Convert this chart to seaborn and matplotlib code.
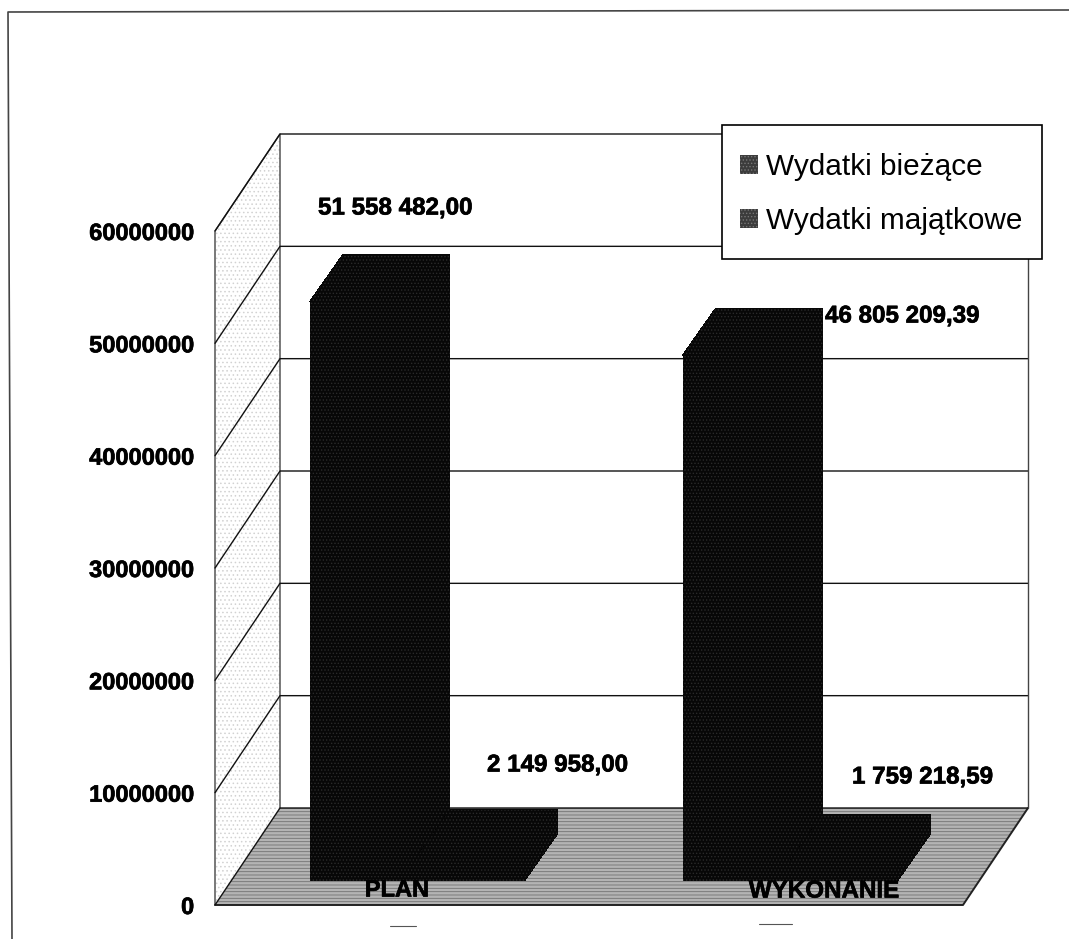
# plot.py - scanned "3D" bar chart, Wydatki plan / wykonanie

import pandas as pd
import matplotlib.pyplot as plt
import matplotlib.patheffects as pe
from matplotlib.patches import Polygon, Rectangle
from matplotlib.lines import Line2D
import seaborn as sns

# Data
categories = ['PLAN', 'WYKONANIE']
wydatki_biezace = [51558482.00, 46805209.39]
wydatki_majatkowe = [2149958.00, 1759218.59]
series_names = ['Wydatki bieżące', 'Wydatki majątkowe']
value_labels = ['51 558 482,00', '46 805 209,39', '2 149 958,00', '1 759 218,59']
y_ticks = [0, 10000000, 20000000, 30000000, 40000000, 50000000, 60000000]

df = pd.DataFrame({
    'kategoria': categories * 2,
    'seria': [series_names[0]] * 2 + [series_names[1]] * 2,
    'wartosc': wydatki_biezace + wydatki_majatkowe,
})

W, H = 1069, 939
sns.set_theme(style='white')
plt.rcParams['font.family'] = ['Liberation Sans', 'DejaVu Sans']
plt.rcParams['hatch.linewidth'] = 0.6

heavy = [pe.withStroke(linewidth=0.5, foreground='black')]

fig = plt.figure(figsize=(W / 100, H / 100), dpi=100)
fig.patch.set_facecolor('white')

# axes = front plane of the 3D box, in pixels of the picture
left, right, top, bottom = 215, 963, 231, 905
ax = fig.add_axes([left / W, 1 - bottom / H, (right - left) / W, (bottom - top) / H])
ax.patch.set_alpha(0)

sns.barplot(data=df, x='kategoria', y='wartosc', hue='seria', order=categories,
            hue_order=series_names, palette=['#070707', '#070707'],
            width=0.576, saturation=1, ax=ax, zorder=5)

px_x = 373.0                    # pixels per category
px_y = (bottom - top) / 60000000
ax.set_xlim((left - 417) / px_x, (right - 417) / px_x)
ax.set_ylim(0, 60000000)

# depth of the box and of the bars, in data units
wall_dx, wall_dy = 65 / px_x, 97 / px_y
bar_dx, bar_dy = 33 / px_x, 47 / px_y
lift = 24 / px_y
x0, x1 = ax.get_xlim()

# floor
ax.add_patch(Polygon([(x0, 0), (x1, 0), (x1 + wall_dx, wall_dy), (x0 + wall_dx, wall_dy)],
                     closed=True, facecolor='#b4b4b4', edgecolor='#727272', hatch='-----',
                     linewidth=0, clip_on=False, zorder=1))
ax.plot([x0, x1, x1 + wall_dx], [0, 0, wall_dy], color='#222222', lw=1.4, clip_on=False, zorder=1.5)

# left wall
ax.add_patch(Polygon([(x0, 0), (x0 + wall_dx, wall_dy), (x0 + wall_dx, 60000000 + wall_dy), (x0, 60000000)],
                     closed=True, facecolor='white', edgecolor='#d2d2d2', hatch='....',
                     linewidth=0, clip_on=False, zorder=1))
ax.plot([x0, x0, x0 + wall_dx, x0 + wall_dx], [0, 60000000, 60000000 + wall_dy, wall_dy],
        color='#444444', lw=1.0, clip_on=False, zorder=2)

# grid lines on the walls
for t in y_ticks:
    ax.plot([x0, x0 + wall_dx, x1 + wall_dx], [t, t + wall_dy, t + wall_dy],
            color='#111111', lw=1.0, clip_on=False, zorder=2)
ax.plot([x1 + wall_dx, x1 + wall_dx], [wall_dy, 60000000 + wall_dy],
        color='#444444', lw=1.0, clip_on=False, zorder=2)

# bars: move the seaborn bars back onto the floor and add side + top faces
bars = [p for c in ax.containers for p in c]
for p in bars:
    p.set_y(p.get_y() + lift)
    p.set_edgecolor('#2a2a2a')
    p.set_hatch('.....')
    p.set_linewidth(0)
    p.set_antialiased(False)
    bx, by, bw, bh = p.get_x(), p.get_y(), p.get_width(), p.get_height()
    ax.add_patch(Polygon([(bx, by + bh), (bx + bar_dx, by + bh + bar_dy),
                          (bx + bw + bar_dx, by + bh + bar_dy), (bx + bw + bar_dx, by + bar_dy),
                          (bx + bw, by), (bx + bw, by + bh)],
                         closed=True, facecolor='#070707', edgecolor='#2a2a2a', hatch='.....',
                         linewidth=0, antialiased=False, clip_on=False, zorder=4))

# y axis
ax.set_yticks(y_ticks)
ax.set_yticklabels([str(t) for t in y_ticks], fontsize=17, fontweight='bold', color='black',
                   path_effects=heavy)
ax.tick_params(axis='y', length=0, pad=15)
ax.set_xticks([])
ax.set_xlabel('')
ax.set_ylabel('')
sns.despine(ax=ax, left=True, bottom=True)


def px_text(x, y, s, size=17.4, **kw):
    fig.text(x / W, 1 - y / H, s, va='center', fontsize=size, fontweight='bold', color='black',
             zorder=20, path_effects=heavy, **kw)


# value labels
px_text(318, 208, value_labels[0], ha='left')
px_text(825, 316, value_labels[1], ha='left')
px_text(487, 765, value_labels[2], ha='left')
px_text(852, 777, value_labels[3], ha='left')

# category labels sit on the floor
px_text(397, 890, categories[0], size=17, ha='center')
px_text(824, 891, categories[1], size=17.4, ha='center')

# unreadable specks under the floor
for a, b, y in [(390, 416, 926), (759, 792, 924)]:
    fig.add_artist(Line2D([a / W, b / W], [1 - y / H] * 2, color='#555555', lw=0.8))

# page frame of the scan
fig.add_artist(Line2D([12 / W, 8 / W, 1], [0, 1 - 12 / H, 1 - 10 / H], color='#444444', lw=1.2))

# legend box, drawn apart so the padding can differ from the seaborn legend's
ax.add_patch(Rectangle((722 / W, 1 - 259 / H), 320 / W, 134 / H, transform=fig.transFigure,
                       facecolor='white', edgecolor='black', linewidth=1.2, clip_on=False, zorder=29))
handles, labels = ax.get_legend_handles_labels()
for h in handles:
    h.set_facecolor('#3c3c3c')
    h.set_edgecolor('#777777')
    h.set_hatch('.....')
    h.set_linewidth(0)
leg = ax.legend(handles, labels, loc='center', bbox_to_anchor=(881 / W, 1 - 194 / H),
                bbox_transform=fig.transFigure, borderaxespad=0, borderpad=0, fontsize=21.4,
                labelcolor='black', frameon=False, handlelength=0.62, handleheight=0.62,
                handletextpad=0.27, labelspacing=0.88)
leg.set_zorder(30)

plt.savefig('out.png', dpi=100)
